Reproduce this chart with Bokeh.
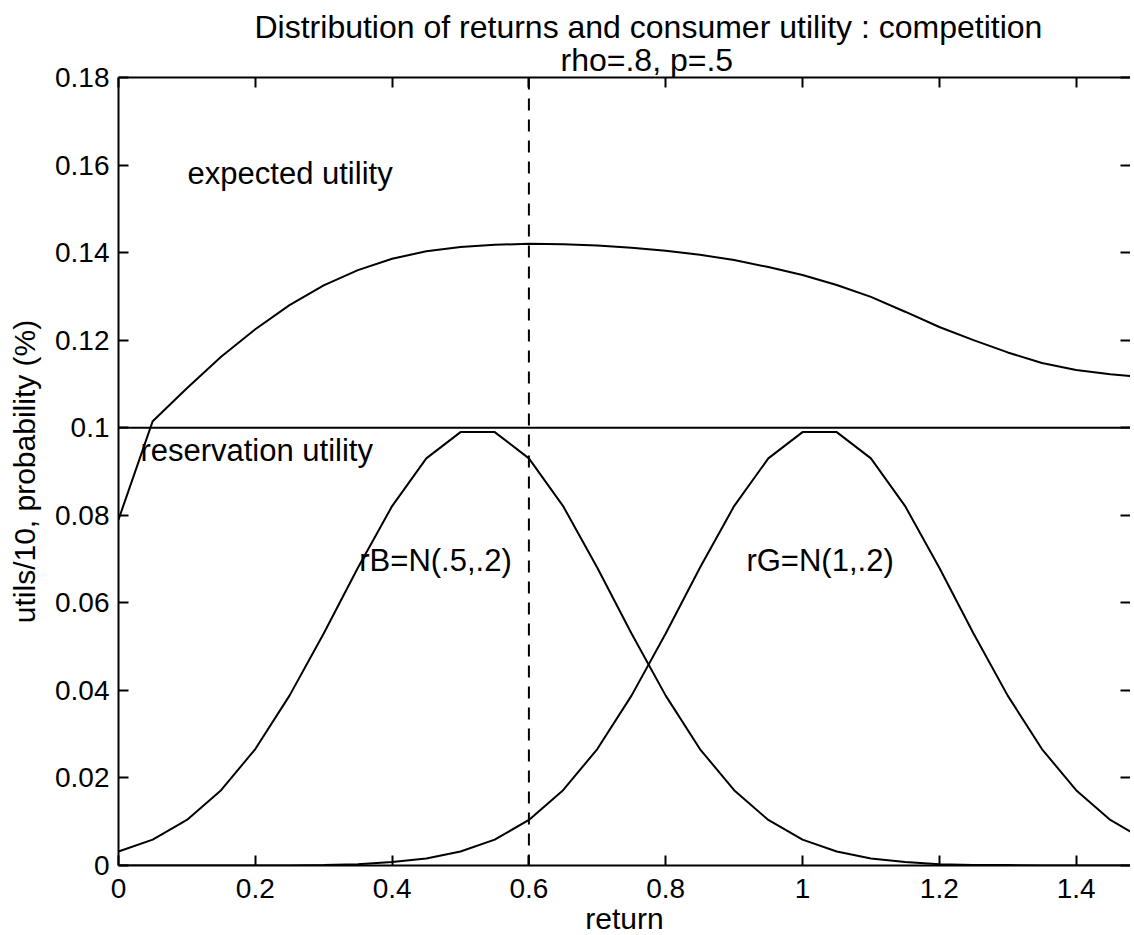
from bokeh.plotting import figure
from bokeh.models import (Span, Label, LinearAxis, FixedTicker, NumeralTickFormatter, Range1d,
                          Title, CustomJSTickFormatter)
from bokeh.embed import file_html
from bokeh.resources import INLINE

# ---- data ----
returns = [0.00, 0.05, 0.10, 0.15, 0.20, 0.25, 0.30, 0.35, 0.40, 0.45,
           0.50, 0.55, 0.60, 0.65, 0.70, 0.75, 0.80, 0.85, 0.90, 0.95,
           1.00, 1.05, 1.10, 1.15, 1.20, 1.25, 1.30, 1.35, 1.40, 1.45, 1.50]
prob_rB = [0.0032, 0.0059, 0.0104, 0.0172, 0.0266, 0.0388, 0.0530, 0.0680, 0.0821, 0.0930,
           0.0990, 0.0990, 0.0930, 0.0821, 0.0680, 0.0530, 0.0388, 0.0266, 0.0172, 0.0104,
           0.0059, 0.0032, 0.0016, 0.0008, 0.0003, 0.0001, 0.0001, 0.0, 0.0, 0.0, 0.0]
prob_rG = [0.0, 0.0, 0.0, 0.0, 0.0, 0.0, 0.0001, 0.0003, 0.0008, 0.0016,
           0.0032, 0.0059, 0.0104, 0.0172, 0.0266, 0.0388, 0.0530, 0.0680, 0.0821, 0.0930,
           0.0990, 0.0990, 0.0930, 0.0821, 0.0680, 0.0530, 0.0388, 0.0266, 0.0172, 0.0104, 0.0059]
expected_utility = [0.0790, 0.1015, 0.1090, 0.1162, 0.1225, 0.1280, 0.1325, 0.1360, 0.1386, 0.1403,
                    0.1413, 0.1418, 0.1420, 0.1419, 0.1416, 0.1411, 0.1404, 0.1395, 0.1383, 0.1367,
                    0.1349, 0.1326, 0.1299, 0.1265, 0.1230, 0.1200, 0.1172, 0.1148, 0.1132, 0.1122, 0.1115]
reservation_utility = 0.1
cutoff_return = 0.6
x_ticks = [0, 0.2, 0.4, 0.6, 0.8, 1.0, 1.2, 1.4]
y_ticks = [0, 0.02, 0.04, 0.06, 0.08, 0.10, 0.12, 0.14, 0.16, 0.18]
title_line1 = "Distribution of returns and consumer utility : competition"
title_line2 = "rho=.8, p=.5"
x_label = "return"
y_label = "utils/10, probability (%)"

FONT = "Liberation Sans"

p = figure(frame_width=1012, frame_height=788,
           min_border_left=118, min_border_top=77, min_border_bottom=0, min_border_right=0,
           x_range=Range1d(0, 1.4795), y_range=Range1d(0, 0.18),
           output_backend="svg", toolbar_location=None,
           x_axis_location=None, y_axis_location=None)
p.title.visible = False
p.outline_line_color = None
p.xgrid.visible = False
p.ygrid.visible = False
p.background_fill_color = "white"
p.border_fill_color = "white"

blank = CustomJSTickFormatter(code="return ''")
fmt = NumeralTickFormatter(format="0.[00]")

def style_axis(ax, labels=True):
    ax.axis_line_color = "black"
    ax.axis_line_width = 2
    ax.major_tick_line_color = "black"
    ax.major_tick_line_width = 2
    ax.major_tick_in = 10
    ax.major_tick_out = 0
    ax.minor_tick_line_color = None
    ax.major_label_text_font = FONT
    ax.major_label_text_color = "black"
    ax.major_label_text_font_size = "28px"
    if not labels:
        ax.formatter = blank
        ax.major_label_standoff = 0

# top axis first, so it sits directly on the frame
top = LinearAxis(ticker=FixedTicker(ticks=x_ticks))
style_axis(top, labels=False)
p.add_layout(top, "above")

# title lines: second line closest to the plot, first line above it
p.add_layout(Title(text=title_line2, align="left", offset=442,
                   text_font=FONT, text_font_size="32px", text_font_style="normal",
                   text_color="black", standoff=0), "above")
p.add_layout(Title(text=title_line1, align="left", offset=136,
                   text_font=FONT, text_font_size="32px", text_font_style="normal",
                   text_color="black", standoff=-10), "above")

bottom = LinearAxis(ticker=FixedTicker(ticks=x_ticks), formatter=fmt)
style_axis(bottom)
bottom.major_label_standoff = 13
bottom.axis_label = x_label
bottom.axis_label_text_font = FONT
bottom.axis_label_text_font_size = "30px"
bottom.axis_label_text_font_style = "normal"
bottom.axis_label_text_color = "black"
bottom.axis_label_standoff = 1
p.add_layout(bottom, "below")

left = LinearAxis(ticker=FixedTicker(ticks=y_ticks), formatter=fmt)
style_axis(left)
left.major_label_standoff = 9
left.axis_label = y_label
left.axis_label_text_font = FONT
left.axis_label_text_font_size = "30px"
left.axis_label_text_font_style = "normal"
left.axis_label_text_color = "black"
left.axis_label_standoff = 11
p.add_layout(left, "left")

right = LinearAxis(ticker=FixedTicker(ticks=y_ticks))
style_axis(right, labels=False)
right.axis_line_color = None
p.add_layout(right, "right")

# curves
p.line(returns, expected_utility, line_color="black", line_width=2)
p.line(returns, prob_rB, line_color="black", line_width=2)
p.line(returns, prob_rG, line_color="black", line_width=2)

p.add_layout(Span(location=reservation_utility, dimension="width", line_color="black", line_width=2))
p.add_layout(Span(location=cutoff_return, dimension="height", line_color="black",
                  line_width=2, line_dash="12 9"))

def lab(x, y, text, size="31px", align="left", baseline="middle"):
    p.add_layout(Label(x=x, y=y, text=text, text_font=FONT, text_font_size=size,
                       text_align=align, text_baseline=baseline, text_color="black"))

lab(0.101, 0.158, "expected utility")
lab(0.032, 0.0948, "reservation utility")
lab(0.352, 0.0697, "rB=N(.5,.2)")
lab(0.918, 0.0697, "rG=N(1,.2)")

open("out.html", "w").write(file_html(p, INLINE))
